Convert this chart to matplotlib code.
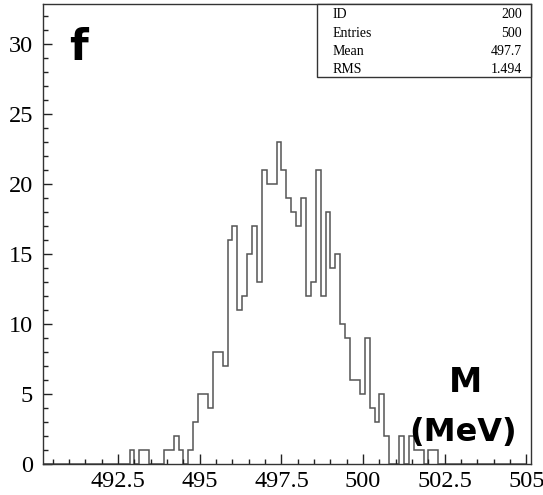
import numpy as np
import matplotlib.pyplot as plt
from matplotlib.patches import Rectangle
from matplotlib.ticker import MultipleLocator

# histogram booking: 100 bins from 490 to 505 MeV
x_lo, x_hi, n_bins = 490.0, 505.0, 100

# bin contents, starting at bin 19
first_bin = 19
counts_read = [1, 0, 1, 1, 0, 0, 0, 1, 1, 2, 1, 0, 1, 3, 5, 5, 4, 8, 8, 7,
               16, 17, 11, 12, 15, 17, 13, 21, 20, 20, 23, 21, 19, 18, 17, 19,
               12, 13, 21, 12, 18, 14, 15, 10, 9, 6, 6, 5, 9, 4, 3, 5, 2,
               0, 0, 2, 0, 2, 1, 1, 0, 1, 1]

stat_names = ['ID', 'Entries', 'Mean', 'RMS']
stat_values = ['200', '500', '497.7', '1.494']

counts = np.zeros(n_bins)
counts[first_bin:first_bin + len(counts_read)] = counts_read
edges = np.linspace(x_lo, x_hi, n_bins + 1)

W, H = 543, 495
fig = plt.figure(figsize=(W / 100, H / 100), dpi=100)
ax = fig.add_axes([42.7 / W, 1 - 464 / H, (531 - 42.7) / W, (464 - 3.5) / H])

ax.stairs(counts, edges, baseline=0, color='#555555', lw=1.1)

ax.set_xlim(490.19, 505.14)
ax.set_ylim(0, 32.9)

ax.xaxis.set_major_locator(MultipleLocator(2.5))
ax.xaxis.set_minor_locator(MultipleLocator(0.5))
ax.yaxis.set_major_locator(MultipleLocator(5))
ax.yaxis.set_minor_locator(MultipleLocator(1))
ax.xaxis.set_major_formatter(plt.FuncFormatter(lambda v, p: f'{v:g}'))

ax.tick_params(which='both', direction='in', top=False, right=False,
               color='#222222', width=1.0, labelsize=17.5)
ax.tick_params(axis='x', which='major', length=7.5, pad=5)
ax.tick_params(axis='x', which='minor', length=3.8)
ax.tick_params(axis='y', which='major', length=6.5, pad=7)
ax.tick_params(axis='y', which='minor', length=3.5)
for lab in ax.get_xticklabels() + ax.get_yticklabels():
    lab.set_family('Liberation Serif')

for s in ax.spines.values():
    s.set_color('#333333')
    s.set_linewidth(1.0)

# stats box
bx0, bx1, by0, by1 = 317 / W, 531 / W, 1 - 77 / H, 1 - 3.5 / H
fig.patches.append(Rectangle((bx0, by0), bx1 - bx0, by1 - by0,
                             transform=fig.transFigure, facecolor='white',
                             edgecolor='#333333', lw=1.0, zorder=5))
rows_y = [15, 33.3, 51.5, 69.3]
for name, val, py in zip(stat_names, stat_values, rows_y):
    fig.text(333 / W, 1 - py / H, name, family='Liberation Serif',
             fontsize=10, va='center', ha='left', zorder=6)
    fig.text(522 / W, 1 - py / H, val, family='Liberation Serif',
             fontsize=10, va='center', ha='right', zorder=6)

# hand-written annotations
fig.text(78 / W, 1 - 48 / H, 'f', fontsize=31, ha='center', va='center',
         family='DejaVu Sans', fontweight='bold')
fig.text(466 / W, 1 - 382 / H, 'M', fontsize=24, ha='center', va='center',
         family='DejaVu Sans', fontweight='bold')
fig.text(463 / W, 1 - 432 / H, '(MeV)', fontsize=23, ha='center',
         va='center', family='DejaVu Sans', fontweight='bold')

fig.savefig('out.png', dpi=100)
